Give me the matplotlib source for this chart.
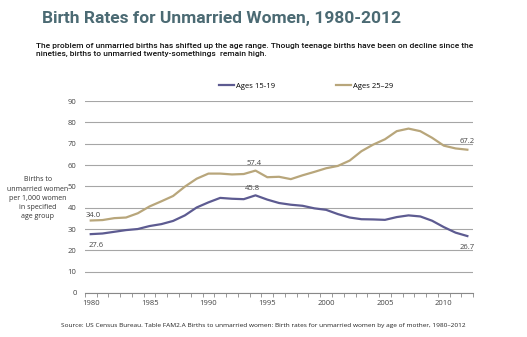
import matplotlib
matplotlib.use('Agg')
import matplotlib.pyplot as plt
import numpy as np

years = list(range(1980, 2013))
teens = [27.6, 27.9, 28.7, 29.5, 30.0, 31.4, 32.3, 33.8, 36.4, 40.1,
         42.5, 44.6, 44.2, 44.0, 45.8, 43.8, 42.2, 41.4, 40.9, 39.7,
         39.0, 37.0, 35.4, 34.6, 34.5, 34.3, 35.6, 36.4, 35.9, 33.9,
         30.9, 28.3, 26.7]
twenties = [34.0, 34.2, 35.1, 35.4, 37.4, 40.6, 43.0, 45.5, 49.9, 53.6,
            56.0, 56.0, 55.6, 55.8, 57.4, 54.3, 54.5, 53.4, 55.2, 56.8,
            58.5, 59.6, 62.1, 66.5, 69.6, 72.1, 75.9, 77.1, 75.9, 72.8,
            69.1, 67.8, 67.2]
series_names = ["Ages 15-19", "Ages 25\u201329"]
ytick_vals = list(range(0, 100, 10))
xtick_years = [1980, 1985, 1990, 1995, 2000, 2005, 2010]

PURPLE = "#5d5b91"
TAN = "#b8a67b"
TITLE_C = "#4b6a73"
HEAD = ["Roboto", "DejaVu Sans"]
BODY = ["Open Sans", "DejaVu Sans"]

fig = plt.figure(figsize=(5.27, 3.37), dpi=100)
fig.patch.set_facecolor("white")
ax = fig.add_axes([0.161, 0.1306, 0.737, 0.5694])

ax.plot(years, teens, color=PURPLE, lw=1.6, label=series_names[0])
ax.plot(years, twenties, color=TAN, lw=1.6, label=series_names[1])

ax.set_xlim(1979.5, 2012.5)
ax.set_ylim(0, 90)
ax.set_yticks(ytick_vals)
ax.set_xticks(xtick_years)
ax.set_xticks(np.arange(1979.5, 2013, 1), minor=True)
ax.tick_params(axis="x", which="major", length=0, pad=5, labelsize=5.5, labelcolor="#444444")
ax.tick_params(axis="x", which="minor", length=3, color="#888888", direction="out")
ax.tick_params(axis="y", length=0, pad=6, labelsize=5.5, labelcolor="#444444")
for lab in ax.get_xticklabels() + ax.get_yticklabels():
    lab.set_family(BODY)
ax.grid(axis="y", color="#a6a6a6", lw=0.8)
ax.set_axisbelow(True)
for s in ["top", "right", "left"]:
    ax.spines[s].set_visible(False)
ax.spines["bottom"].set_color("#888888")
ax.spines["bottom"].set_linewidth(0.8)

ann = dict(fontsize=5.5, color="#444444", family=BODY)
ax.text(1979.6, twenties[0] + 0.8, "34.0", ha="left", va="bottom", **ann)
ax.text(1979.8, teens[0] - 3.5, "27.6", ha="left", va="top", **ann)
ax.text(1993.9, twenties[14] + 1.8, "57.4", ha="center", va="bottom", **ann)
ax.text(1993.7, teens[14] + 1.8, "45.8", ha="center", va="bottom", **ann)
ax.text(2012, twenties[-1] + 2.2, "67.2", ha="center", va="bottom", **ann)
ax.text(2012, teens[-1] - 3.5, "26.7", ha="center", va="top", **ann)

ax.legend(loc="center left", bbox_to_anchor=(219 / 527, 1 - 86 / 337),
          bbox_transform=fig.transFigure, ncol=2, frameon=False,
          handlelength=1.9, handletextpad=0.3, columnspacing=8.0,
          borderpad=0, borderaxespad=0,
          prop={"family": BODY, "size": 5.5})

fig.text(0.072, 0.411, "Births to\nunmarried women\nper 1,000 women\nin specified\nage group",
         ha="center", va="center", fontsize=5.0, family=BODY, color="#333333", linespacing=1.45)

fig.text(0.08, 0.944, "Birth Rates for Unmarried Women, 1980-2012", ha="left", va="center",
         fontsize=12.5, fontweight="bold", color=TITLE_C, family=HEAD)
fig.text(0.068, 0.852, "The problem of unmarried births has shifted up the age range. Though teenage births have been on decline since the\n"
         "nineties, births to unmarried twenty-somethings  remain high.",
         ha="left", va="center", fontsize=6.0, fontweight="medium", color="#111111",
         family=HEAD, linespacing=1.45)
fig.text(0.5, 0.035, "Source: US Census Bureau. Table FAM2.A Births to unmarried women: Birth rates for unmarried women by age of mother, 1980\u20132012",
         ha="center", va="center", fontsize=4.65, color="#222222", family=BODY)

fig.savefig("out.png", dpi=100)
